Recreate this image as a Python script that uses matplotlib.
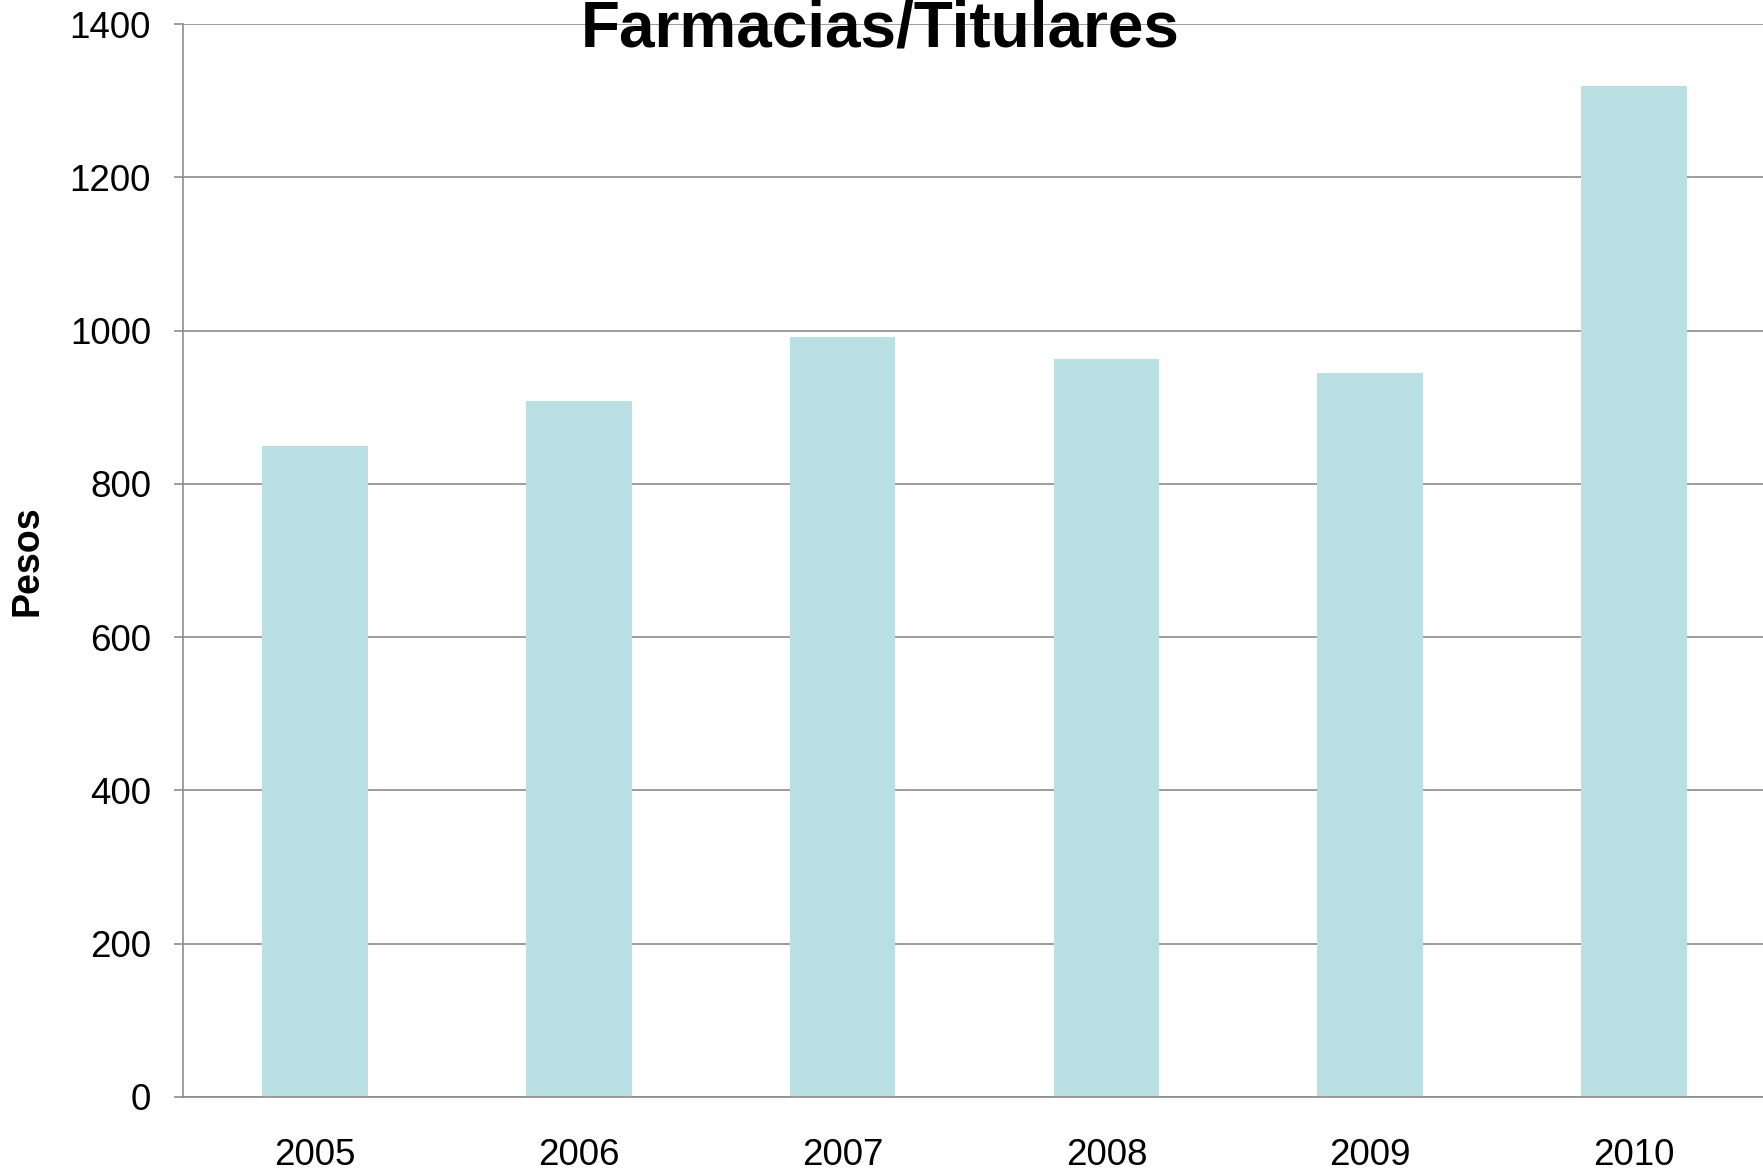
import matplotlib.pyplot as plt
import numpy as np

# datos #
anios = ['2005', '2006', '2007', '2008', '2009', '2010']
pesos = [849, 908, 991, 963, 944, 1319]
yticks = [0, 200, 400, 600, 800, 1000, 1200, 1400]

plt.rcParams['font.family'] = ['Liberation Sans', 'DejaVu Sans']

W, H = 1763, 1172
fig = plt.figure(figsize=(W / 100, H / 100), dpi=100)

# ejes (en pixeles de la figura) #
left, right, top, bottom = 183, 1766, 24, 1097
ax = fig.add_axes([left / W, 1 - bottom / H, (right - left) / W, (bottom - top) / H])

gris = '#8c8c8c'
x = np.arange(len(anios))
ax.bar(x, pesos, width=0.4, color='#b9dfe2', zorder=2)

ax.set_xlim(-0.5, len(anios) - 0.5)
ax.set_ylim(0, 1400)
ax.set_yticks(yticks)
ax.set_xticks(x)
ax.set_xticklabels(anios)

ax.yaxis.grid(True, color=gris, linewidth=1.2, zorder=1)
ax.set_axisbelow(True)

for lado in ['top', 'right']:
    ax.spines[lado].set_visible(False)
for lado in ['left', 'bottom']:
    ax.spines[lado].set_color(gris)
    ax.spines[lado].set_linewidth(1.2)

ax.tick_params(axis='y', labelsize=26.5, length=6.5, width=1.2, color=gris, pad=16.5)
ax.tick_params(axis='x', labelsize=26.5, length=0, pad=29.5)

# textos #
fig.text(0.4994, 1 - 46 / H, 'Farmacias/Titulares', fontsize=46, fontweight='bold',
         ha='center', va='baseline')
fig.text(28 / W, 1 - 561 / H, 'Pesos', fontsize=27, fontweight='bold',
         rotation=90, ha='center', va='center')

fig.savefig('out.png', dpi=100)
